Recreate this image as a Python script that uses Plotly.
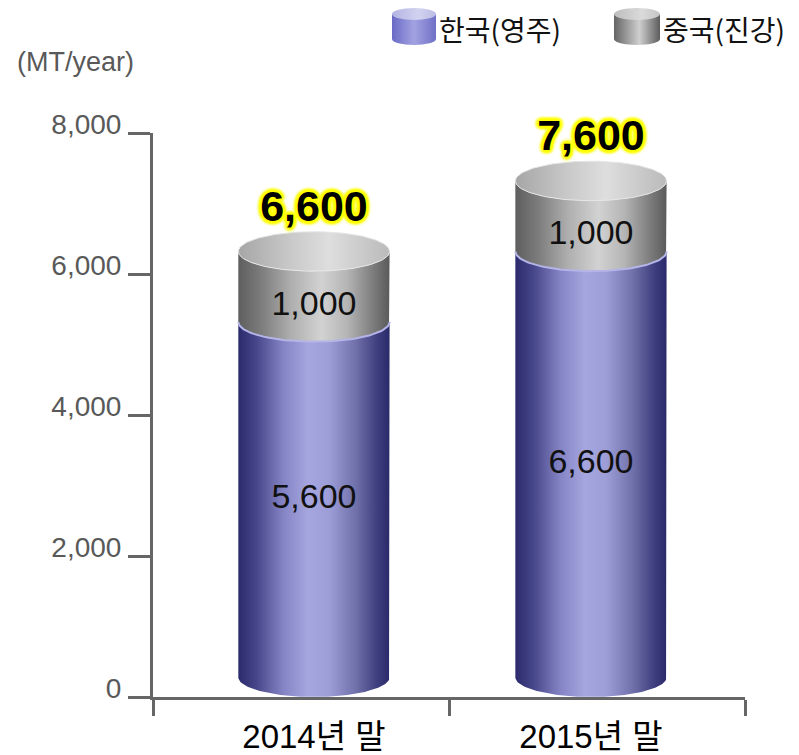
import base64
import numpy as np
import plotly.graph_objects as go

# ---------------- data ----------------
categories = ["2014년 말", "2015년 말"]
series_names = ["한국(영주)", "중국(진강)"]
korea = [5600, 6600]
china = [1000, 1000]
totals = [6600, 7600]
y_ticks = [0, 2000, 4000, 6000, 8000]
unit_label = "(MT/year)"

# ---------------- style ----------------
FONT = "Liberation Sans, Arial, Noto Sans CJK KR, sans-serif"
KFONT = "Noto Sans CJK KR, Liberation Sans, sans-serif"
AXIS = "#666666"
TICKTXT = "#595959"
RY = 280          # ellipse half height (y units)
HW = 0.273        # cylinder half width (x units)
N = 80
X_RANGE = [-0.581, 1.556]
X_BOUNDS = [-0.581, 0.49, 1.556]

BLUE_BODY = [[0, "#2a2a6c"], [0.12, "#46468a"], [0.3, "#8585c6"], [0.46, "#a5a5df"],
             [0.6, "#9d9dd7"], [0.78, "#6f6fa9"], [0.92, "#3e3e7e"], [1, "#2a2a6a"]]
GRAY_BODY = [[0, "#5e5e5e"], [0.15, "#7c7c7c"], [0.35, "#afafaf"], [0.55, "#d2d2d2"],
             [0.72, "#b5b5b5"], [0.88, "#808080"], [1, "#5a5a5a"]]
GRAY_TOP = [[0, "#a6a6a6"], [0.35, "#c9c9c9"], [0.6, "#dedede"], [1, "#bababa"]]
RIM = "#b4b4e8"


def center(v):
    """Vertical centre of the ellipse that represents stacked value v."""
    return RY if v == 0 else v - RY


def front_arc(cx, cy, reverse=False):
    t = np.linspace(np.pi, 2 * np.pi, N)
    if reverse:
        t = t[::-1]
    return cx + HW * np.cos(t), cy + RY * np.sin(t)


def body(cx, lo, hi):
    x1, y1 = front_arc(cx, center(hi))
    x2, y2 = front_arc(cx, center(lo), reverse=True)
    return np.concatenate([x1, x2, x1[:1]]), np.concatenate([y1, y2, y1[:1]])


def ellipse(cx, cy):
    t = np.linspace(0, 2 * np.pi, 2 * N)
    return cx + HW * np.cos(t), cy + RY * np.sin(t)


fig = go.Figure()
xs = list(range(len(categories)))

for i, cx in enumerate(xs):
    lo_b, hi_b = 0, korea[i]
    lo_g, hi_g = korea[i], korea[i] + china[i]
    bx, by = body(cx, lo_b, hi_b)
    fig.add_trace(go.Scatter(x=bx, y=by, mode="lines", fill="toself", line=dict(width=0),
                             fillgradient=dict(type="horizontal", colorscale=BLUE_BODY),
                             hoverinfo="skip", showlegend=False))
    gx, gy = body(cx, lo_g, hi_g)
    fig.add_trace(go.Scatter(x=gx, y=gy, mode="lines", fill="toself", line=dict(width=0),
                             fillgradient=dict(type="horizontal", colorscale=GRAY_BODY),
                             hoverinfo="skip", showlegend=False))
    rx, ry_ = front_arc(cx, center(lo_g))
    fig.add_trace(go.Scatter(x=rx, y=ry_, mode="lines", line=dict(color=RIM, width=2),
                             hoverinfo="skip", showlegend=False))
    ex, ey = ellipse(cx, center(hi_g))
    fig.add_trace(go.Scatter(x=ex, y=ey, mode="lines", fill="toself",
                             line=dict(color="#e6e6e6", width=1),
                             fillgradient=dict(type="horizontal", colorscale=GRAY_TOP),
                             hoverinfo="skip", showlegend=False))

# value labels
def face_mid(lo, hi):
    """middle of the visible front face of an upper segment"""
    return (center(lo) + center(hi)) / 2 - RY

fig.add_trace(go.Scatter(
    x=xs, y=[k / 2 for k in korea], mode="text",
    text=[f"{v:,}" for v in korea], textposition="middle center",
    textfont=dict(family=FONT, size=34, color="#111111"),
    hoverinfo="skip", showlegend=False))
fig.add_trace(go.Scatter(
    x=xs, y=[face_mid(k, k + c) for k, c in zip(korea, china)], mode="text",
    text=[f"{v:,}" for v in china], textposition="middle center",
    textfont=dict(family=FONT, size=34, color="#111111"),
    hoverinfo="skip", showlegend=False))

glow = ("0 0 2px #ffff00, 0 0 3px #ffff00, 0 0 5px #ffff00, 2px 2px 3px #ffff00, "
        "-2px -2px 3px #ffff00, 2px -2px 3px #ffff00, -2px 2px 3px #ffff00, "
        "0 3px 3px #ffff00, 0 -3px 3px #ffff00, 3px 0 3px #ffff00, -3px 0 3px #ffff00")
fig.add_trace(go.Scatter(
    x=xs, y=totals, mode="text", text=[f"{v:,}" for v in totals],
    textposition="top center",
    textfont=dict(family=FONT, size=43, color="#000000", weight="bold", shadow=glow),
    hoverinfo="skip", showlegend=False, cliponaxis=False))

# ---------------- legend icons (svg images) ----------------
def cyl_svg(body_stops, top_stops):
    def stops(s):
        return "".join(f"<stop offset='{o}' stop-color='{c}'/>" for o, c in s)
    svg = ("<svg xmlns='http://www.w3.org/2000/svg' width='44' height='38' viewBox='0 0 44 38'>"
           "<defs><linearGradient id='g' x1='0' x2='1' y1='0' y2='0'>" + stops(body_stops) +
           "</linearGradient><linearGradient id='t' x1='0' x2='1' y1='0' y2='0'>" + stops(top_stops) +
           "</linearGradient></defs>"
           "<path d='M0,6 L0,31 A22,6 0 0 0 44,31 L44,6 Z' fill='url(#g)'/>"
           "<ellipse cx='22' cy='6' rx='22' ry='6' fill='url(#t)'/></svg>")
    return "data:image/svg+xml;base64," + base64.b64encode(svg.encode()).decode()

blue_icon = cyl_svg([(0, "#6a6ac6"), (0.5, "#a2a2e2"), (1, "#7070c6")],
                    [(0, "#b4b4e4"), (0.6, "#d2d2f0"), (1, "#bcbce6")])
gray_icon = cyl_svg([(0, "#646464"), (0.55, "#cfcfcf"), (1, "#5c5c5c")],
                    [(0, "#bdbdbd"), (0.6, "#dadada"), (1, "#c4c4c4")])

# page has an 8px body margin: shift the figure so it lines up with the window
OFF = 8
W, H = 799 - OFF, 755 - OFF
PX0, PX1, PY0, PY1 = 153, 745, 133, 697     # plot area in window pixels
PW, PH = PX1 - PX0, PY1 - PY0
L, T = PX0 - OFF, PY0 - OFF
R, B = W - L - PW, H - T - PH

def px(p):
    return (p - PX0) / PW

def py(q):
    return (PY1 - q) / PH

images = [
    dict(source=blue_icon, xref="paper", yref="paper", x=px(392), y=py(8),
         sizex=44 / PW, sizey=38 / PH, xanchor="left", yanchor="top", sizing="stretch", layer="above"),
    dict(source=gray_icon, xref="paper", yref="paper", x=px(614), y=py(8),
         sizex=46 / PW, sizey=38 / PH, xanchor="left", yanchor="top", sizing="stretch", layer="above"),
]
annotations = [
    dict(text=series_names[0], xref="paper", yref="paper", x=px(437), y=py(29),
         xanchor="left", yanchor="middle", showarrow=False,
         font=dict(family=KFONT, size=28, color="#111111")),
    dict(text=series_names[1], xref="paper", yref="paper", x=px(661), y=py(29),
         xanchor="left", yanchor="middle", showarrow=False,
         font=dict(family=KFONT, size=28, color="#111111")),
    dict(text=unit_label, xref="paper", yref="paper", x=px(15), y=py(62),
         xanchor="left", yanchor="middle", showarrow=False,
         font=dict(family=FONT, size=27, color=TICKTXT)),
]

fig.update_layout(
    width=W, height=H, margin=dict(l=L, r=R, t=T, b=B, autoexpand=False),
    paper_bgcolor="white", plot_bgcolor="white",
    images=images, annotations=annotations, showlegend=False,
    xaxis=dict(range=X_RANGE, showgrid=False, zeroline=False, showline=True,
               automargin=False,
               linecolor=AXIS, linewidth=3, tickvals=xs, ticktext=categories,
               ticks="", tickfont=dict(family=FONT, size=33, color="#000000"),
               ticklabelstandoff=8,
               minor=dict(tickvals=X_BOUNDS, ticks="outside", ticklen=16,
                          tickwidth=3, tickcolor=AXIS)),
    yaxis=dict(range=[0, 8000], showgrid=False, zeroline=False, showline=True,
               automargin=False,
               linecolor=AXIS, linewidth=3, tickvals=y_ticks, tickformat=",",
               ticks="outside", ticklen=22, tickwidth=3, tickcolor=AXIS,
               tickfont=dict(family=FONT, size=28, color=TICKTXT),
               ticklabelshift=-9, ticklabelstandoff=1),
)

fig.write_html("out.html")
